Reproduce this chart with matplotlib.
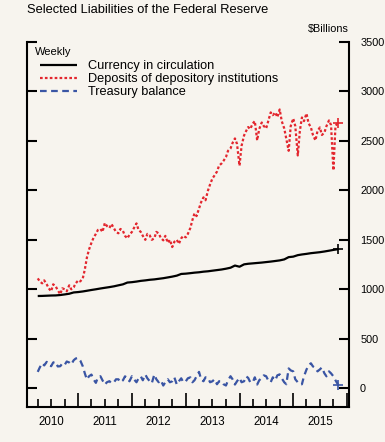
import matplotlib
matplotlib.use("Agg")
import matplotlib.pyplot as plt
import matplotlib.dates as mdates
import pandas as pd

plt.rcParams['font.family'] = ['Liberation Sans', 'DejaVu Sans']

# currency: monthly, Apr 2010 .. Nov 2015 ($ billions)
months = pd.date_range('2010-04-01', periods=68, freq='MS')
currency = [932, 933, 935, 937, 938, 942, 948, 955, 968,
            972, 978, 985, 993, 1000, 1008, 1015, 1022, 1030, 1040, 1050, 1068,
            1072, 1078, 1085, 1090, 1096, 1100, 1106, 1112, 1120, 1128, 1138, 1155,
            1158, 1163, 1168, 1172, 1178, 1182, 1188, 1194, 1200, 1208, 1218, 1240,
            1228, 1252, 1258, 1262, 1266, 1270, 1275, 1280, 1286, 1292, 1302, 1325,
            1330, 1345, 1352, 1358, 1365, 1370, 1375, 1382, 1390, 1398, 1405]

# deposits and treasury: twice a month (1st, 15th), Apr 2010 .. Nov 2015
halfmonths = pd.date_range('2010-04-01', periods=135, freq='SMS')
deposits = [1110, 1080, 1060, 1090, 1050, 1010, 980, 1050, 1030, 990, 950, 1010,
            1000, 980, 1040, 1000, 1020, 1060,
            1090, 1080, 1110, 1200, 1320, 1400, 1470, 1520, 1560, 1600, 1610, 1580,
            1670, 1640, 1620, 1660, 1616, 1580, 1566, 1610, 1590, 1540, 1515, 1550,
            1580, 1620, 1666, 1600, 1580, 1540, 1500, 1560, 1545, 1500, 1515, 1580,
            1565, 1520, 1495, 1540, 1470, 1500, 1427, 1480, 1500, 1460, 1515, 1540,
            1525, 1560, 1620, 1700, 1767, 1740, 1818, 1880, 1929, 1900, 2000, 2060,
            2121, 2150, 2190, 2250, 2272, 2300, 2337, 2400, 2424, 2480, 2525, 2470,
            2250, 2450, 2555, 2600, 2640, 2620, 2676, 2700, 2505, 2620, 2686, 2650,
            2626, 2700, 2788, 2760, 2788, 2740, 2818, 2700, 2626, 2520, 2400, 2650,
            2727, 2650, 2353, 2600, 2737, 2700, 2777, 2680, 2636, 2560, 2505, 2600,
            2636, 2560, 2585, 2650, 2707, 2660, 2202, 2650, 2686]

treasury = [165, 210, 252, 230, 266, 240, 222, 260, 266, 220, 222, 250,
            236, 270, 260, 240, 282, 300,
            306, 280, 222, 150, 88, 120, 138, 90, 54, 110, 121, 80,
            37, 60, 71, 50, 60, 90, 90, 60, 80, 120, 104, 70,
            121, 90, 60, 100, 121, 80, 138, 100, 70, 50, 138, 90,
            60, 80, 27, 60, 90, 60, 70, 110, 37, 70, 100, 60,
            70, 100, 110, 60, 80, 120, 165, 90, 70, 110, 104, 60,
            70, 90, 40, 70, 70, 40, 27, 80, 121, 90, 37, 70,
            104, 60, 70, 120, 104, 60, 60, 110, 37, 80, 104, 130,
            121, 80, 60, 110, 80, 130, 140, 100, 60, 40, 200, 180,
            170, 90, 60, 40, 40, 120, 188, 230, 252, 220, 205, 170,
            190, 210, 150, 120, 170, 150, 120, 80, 37]

years = [2010, 2011, 2012, 2013, 2014, 2015]

bg = '#f7f4ee'
red = '#e3262e'
blue = '#3a55a4'

fig = plt.figure(figsize=(3.85, 4.42), dpi=100, facecolor=bg)
ax = fig.add_axes([0.0701, 0.0792, 0.8364, 0.8258], facecolor=bg)

ax.plot(months, currency, color='black', lw=1.6, solid_capstyle='butt')
ax.plot(halfmonths, deposits, color=red, lw=1.6, ls=(0, (1.2, 1)))
ax.plot(halfmonths, treasury, color=blue, lw=1.6, ls=(0, (3, 2)))

# end-of-series markers
ax.plot(months[-1:], currency[-1:], '+', color='black', ms=7, mew=1.2)
ax.plot(halfmonths[-1:], deposits[-1:], '+', color=red, ms=7, mew=1.2)
ax.plot(halfmonths[-1:], treasury[-1:], '+', color=blue, ms=7, mew=1.2)

ax.set_xlim(pd.Timestamp('2010-01-18'), pd.Timestamp('2016-01-15'))
ax.set_ylim(-190, 3500)

# spines
ax.spines['top'].set_visible(False)
for s in ['left', 'right', 'bottom']:
    ax.spines[s].set_linewidth(1.5)

# y ticks: inward both sides, labels on the right
yt = [0, 500, 1000, 1500, 2000, 2500, 3000, 3500]
ax.set_yticks(yt)
ax.set_yticklabels([str(v) for v in yt])
ax.tick_params(axis='y', which='major', direction='in', length=7, width=1.5,
               left=True, right=True, labelleft=False, labelright=True,
               labelsize=7.8, pad=8)

# x ticks: long at years, short at quarters
ax.xaxis.set_major_locator(mdates.YearLocator())
ax.xaxis.set_minor_locator(mdates.MonthLocator(bymonth=[4, 7, 10]))
ax.xaxis.set_major_formatter(plt.NullFormatter())
ax.tick_params(axis='x', which='major', direction='in', length=10, width=1.2)
ax.tick_params(axis='x', which='minor', direction='in', length=6, width=1.2)

for y in years:
    ax.text(pd.Timestamp(f'{y}-07-01'), -0.025, str(y), transform=ax.get_xaxis_transform(),
            ha='center', va='top', fontsize=8.3)

fig.text(0.07, 0.977, 'Selected Liabilities of the Federal Reserve', ha='left', va='center',
         fontsize=9.3)
ax.text(1.0, 1.022, '$Billions', transform=ax.transAxes, ha='right', va='bottom', fontsize=7.8)

ax.text(0.025, 0.972, 'Weekly', transform=ax.transAxes, ha='left', va='center', fontsize=8)
ax.legend(['Currency in circulation', 'Deposits of depository institutions', 'Treasury balance'],
          loc='upper left', bbox_to_anchor=(0.013, 0.975), frameon=False, fontsize=9.2,
          handlelength=2.9, handletextpad=0.85, labelspacing=0.08, borderpad=0.2)

fig.savefig('out.png', dpi=100, facecolor=bg)
